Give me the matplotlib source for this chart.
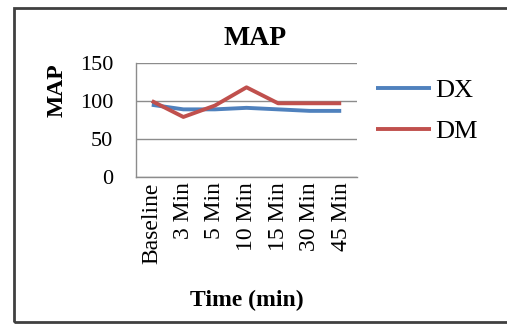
import matplotlib
matplotlib.use("Agg")
import matplotlib.pyplot as plt
from matplotlib.patches import Rectangle

categories = ["Baseline", "3 Min", "5 Min", "10 Min", "15 Min", "30 Min", "45 Min"]
dx_values = [95, 89, 89, 91, 89, 87, 87]
dm_values = [100, 79, 94, 118, 97, 97, 97]
y_ticks = [0, 50, 100, 150]

plt.rcParams["font.family"] = ["Liberation Serif", "DejaVu Serif"]

fig = plt.figure(figsize=(5.07, 3.24), dpi=100)
ax = fig.add_axes([136 / 507, 1 - 177 / 324, 221 / 507, 114 / 324])

x = range(len(categories))
ax.plot(x, dx_values, color="#4F81BD", lw=2.8, label="DX", solid_capstyle="butt")
ax.plot(x, dm_values, color="#C0504D", lw=2.8, label="DM", solid_capstyle="butt")

ax.set_xlim(-0.5, len(categories) - 0.5)
ax.set_ylim(0, 150)
ax.set_yticks(y_ticks)
ax.set_yticklabels([str(v) for v in y_ticks], fontsize=16)
ax.set_xticks(list(x))
ax.set_xticklabels(categories, rotation=90, fontsize=17)
ax.tick_params(axis="both", length=0, pad=4)
ax.tick_params(axis="y", pad=16.5)

ax.grid(axis="y", color="#8c8c8c", lw=1.0)
ax.set_axisbelow(True)
for side in ("top", "right"):
    ax.spines[side].set_visible(False)
for side in ("left", "bottom"):
    ax.spines[side].set_color("#8c8c8c")
    ax.spines[side].set_linewidth(1.0)

ax.set_title("MAP", fontsize=20, fontweight="bold", x=0.538, y=1.0, pad=13)
ax.set_ylabel("MAP", fontsize=17, fontweight="bold")
ax.yaxis.set_label_coords(-0.308, 0.763)
ax.set_xlabel("Time (min)", fontsize=17, fontweight="bold", labelpad=19)

ax.legend(loc="upper left", bbox_to_anchor=(376 / 507, 1 - 79 / 324),
          bbox_transform=fig.transFigure, frameon=False, fontsize=19,
          handlelength=2.1, handletextpad=0.15, labelspacing=0.65,
          borderpad=0, borderaxespad=0)

fig.patches.append(Rectangle((13.5 / 507, 1 - 322 / 324), 1.2, 314 / 324,
                             transform=fig.transFigure, fill=False,
                             edgecolor="#404040", lw=2.0))

fig.savefig("out.png", dpi=100)
